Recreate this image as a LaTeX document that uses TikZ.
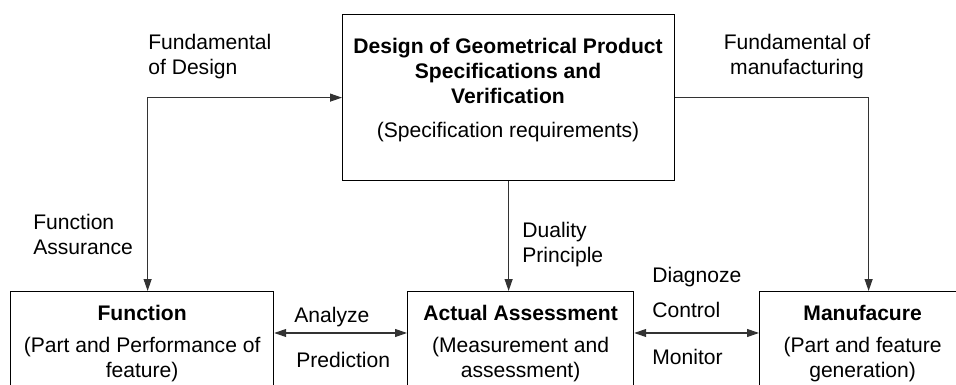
\documentclass[tikz,border=0pt]{standalone}
\usepackage{fontspec}
\setmainfont{Liberation Sans}
\usetikzlibrary{arrows.meta}
\begin{document}
\begin{tikzpicture}[x=0.02cm,y=-0.02cm,font=\fontsize{12}{14.2}\selectfont,
  every node/.style={inner sep=0pt},
  box/.style={draw,line width=0.7pt,anchor=north west},
  ttl/.style={font=\fontsize{12}{14.2}\selectfont\bfseries,align=center},
  lbl/.style={align=left,anchor=west},
  ln/.style={line width=0.6pt,draw=black!80},
  >={Triangle[length=2.4mm,width=1.6mm]}]
\clip (0,0) rectangle (956,385);
% top box
\node[box,minimum width=332*0.02cm,minimum height=166*0.02cm] (spec) at (342,14) {};
\node[ttl] (specT) at (508,71) {Design of Geometrical Product\\Specifications and\\Verification};
\node (specS) at (508,132) {(Specification requirements)};
% bottom boxes
\foreach \n/\x/\w/\t/\s in {func/10/263/Function/{(Part and Performance of\\feature)},
    act/407/226/Actual Assessment/{(Measurement and\\assessment)},
    manu/759/206/Manufacure/{(Part and feature\\generation)}} {
  \node[box,minimum width=\w*0.02cm,minimum height=2.4cm] (\n) at (\x,291) {};
  \node[ttl,yshift=-0.44cm] (\n T) at (\n.north) {\t};
  \node[align=center,yshift=-1.38cm] (\n S) at (\n.north) {\s};
}
% connectors
\draw[ln,<->] (spec.west) -| ([xshift=0.11cm]func.north);
\draw[ln,->] (spec.south) -- (spec.south |- act.north);
\draw[ln,->] (spec.east) -| ([xshift=0.12cm]manu.north);
\draw[ln,<->] ([yshift=-0.84cm]func.north east) -- ([yshift=-0.84cm]act.north west);
\draw[ln,<->] ([yshift=-0.84cm]act.north east) -- ([yshift=-0.84cm]manu.north west);
% labels
\node[lbl] (fdes) at (148,57) {Fundamental\\of Design};
\node[align=center] (fman) at (797,57) {Fundamental of\\manufacturing};
\node[lbl] (fass) at (33,234) {Function\\Assurance};
\node[lbl] (dual) at (522,245) {Duality\\Principle};
\node[lbl] (anal) at (294,317) {Analyze};
\node[lbl] (pred) at (296,360) {Prediction};
\node[lbl] (diag) at (652,277) {Diagnoze};
\node[lbl] (ctrl) at (652,310) {Control};
\node[lbl] (moni) at (652,357) {Monitor};
\end{tikzpicture}
\end{document}
